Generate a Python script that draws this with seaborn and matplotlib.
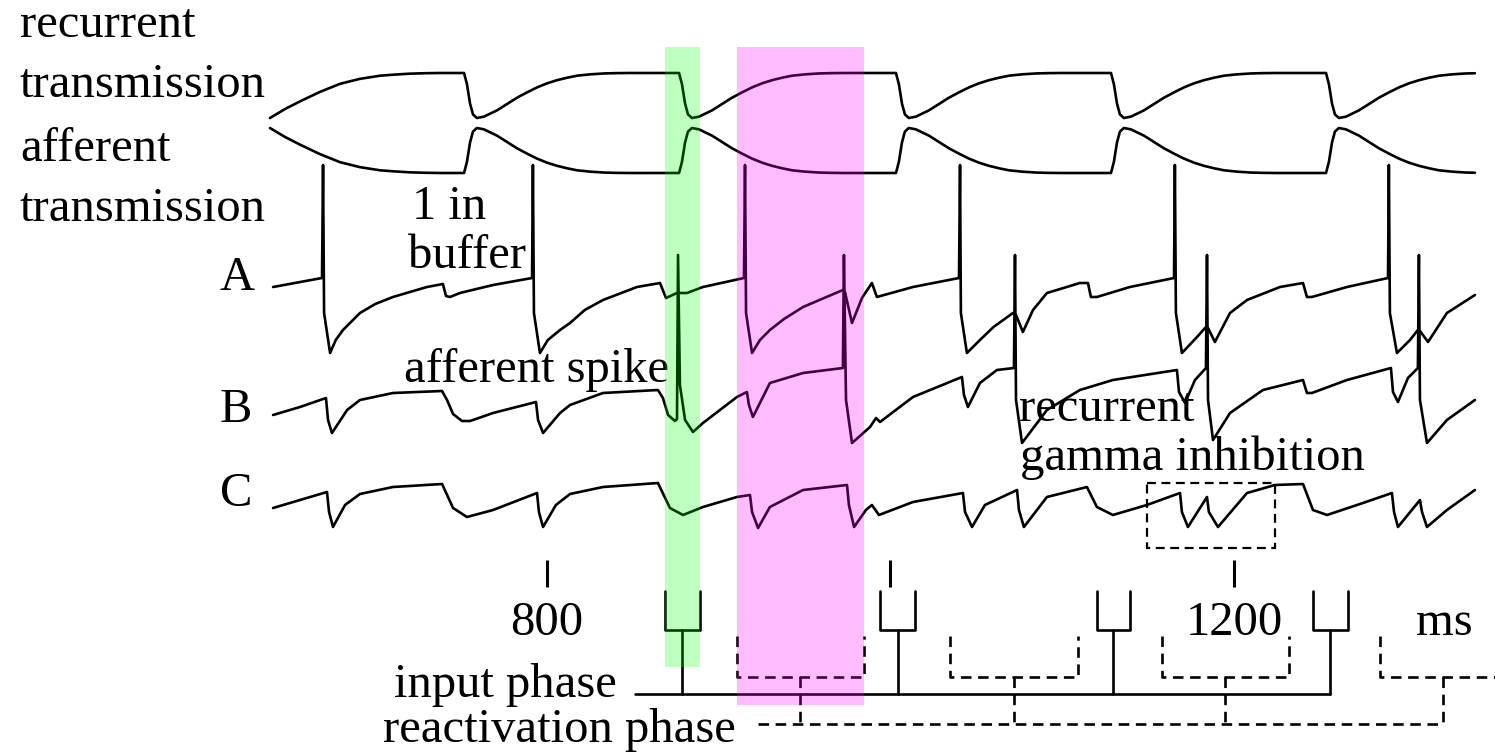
import numpy as np
import pandas as pd
import matplotlib
matplotlib.use("Agg")
import matplotlib.pyplot as plt
import matplotlib.transforms as mtransforms
from matplotlib.patches import Rectangle
import seaborn as sns

# time axis in ms, traces
t_trans = [638.7, 647.5, 656.2, 667.8, 679.5, 691.1, 702.8, 711.5, 720.2, 729.0, 737.7,
           751.7, 753.4, 755.2, 756.9, 759.2, 763.3, 770.9, 776.7, 782.5, 788.4, 794.2, 800.0, 805.8,
           811.7, 817.5, 825.1, 833.2, 840.2, 847.7,
           876.9, 878.6, 880.4, 882.1, 884.4, 888.5, 896.1, 901.9, 907.7, 913.6, 919.4, 925.2, 931.0,
           936.9, 942.7, 950.3, 958.4, 965.4, 972.9,
           1003.2, 1004.9, 1006.7, 1008.4, 1010.7, 1014.8, 1022.4, 1028.2, 1034.0, 1039.9, 1045.7, 1051.5,
           1057.3, 1063.2, 1069.0, 1076.6, 1084.7, 1091.7, 1099.2,
           1128.4, 1130.1, 1131.9, 1133.6, 1135.9, 1140.0, 1147.6, 1153.4, 1159.2, 1165.1, 1170.9, 1176.7,
           1182.5, 1188.4, 1194.2, 1201.8, 1209.9, 1216.9, 1224.4,
           1253.6, 1255.3, 1257.1, 1258.8, 1261.1, 1265.2, 1272.8, 1278.6, 1284.4, 1290.3, 1296.1, 1301.9,
           1307.7, 1313.6, 1319.4, 1327.0, 1335.1, 1340.3]
recurrent = [0.0, 0.2, 0.37, 0.58, 0.76, 0.87, 0.94, 0.965, 0.985, 0.995, 1.0,
             1.0, 0.75, 0.32, 0.08, 0.0, 0.03, 0.17, 0.31, 0.45, 0.57, 0.68, 0.77, 0.84,
             0.895, 0.94, 0.97, 0.99, 0.997, 1.0,
             1.0, 0.75, 0.32, 0.08, 0.0, 0.03, 0.17, 0.31, 0.45, 0.57, 0.68, 0.77, 0.84,
             0.895, 0.94, 0.97, 0.99, 0.997, 1.0,
             1.0, 0.75, 0.32, 0.08, 0.0, 0.03, 0.17, 0.31, 0.45, 0.57, 0.68, 0.77,
             0.84, 0.895, 0.94, 0.97, 0.99, 0.997, 1.0,
             1.0, 0.75, 0.32, 0.08, 0.0, 0.03, 0.17, 0.31, 0.45, 0.57, 0.68, 0.77,
             0.84, 0.895, 0.94, 0.97, 0.99, 0.997, 1.0,
             1.0, 0.75, 0.32, 0.08, 0.0, 0.03, 0.17, 0.31, 0.45, 0.57, 0.68, 0.77,
             0.84, 0.895, 0.94, 0.97, 0.99, 0.994]
afferent = [1.0, 0.8, 0.63, 0.42, 0.24, 0.13, 0.06, 0.035, 0.015, 0.005, 0.0,
            0.0, 0.25, 0.68, 0.92, 1.0, 0.97, 0.83, 0.69, 0.55, 0.43, 0.32, 0.23, 0.16,
            0.105, 0.06, 0.03, 0.01, 0.003, 0.0,
            0.0, 0.25, 0.68, 0.92, 1.0, 0.97, 0.83, 0.69, 0.55, 0.43, 0.32, 0.23, 0.16,
            0.105, 0.06, 0.03, 0.01, 0.003, 0.0,
            0.0, 0.25, 0.68, 0.92, 1.0, 0.97, 0.83, 0.69, 0.55, 0.43, 0.32, 0.23,
            0.16, 0.105, 0.06, 0.03, 0.01, 0.003, 0.0,
            0.0, 0.25, 0.68, 0.92, 1.0, 0.97, 0.83, 0.69, 0.55, 0.43, 0.32, 0.23,
            0.16, 0.105, 0.06, 0.03, 0.01, 0.003, 0.0,
            0.0, 0.25, 0.68, 0.92, 1.0, 0.97, 0.83, 0.69, 0.55, 0.43, 0.32, 0.23,
            0.16, 0.105, 0.06, 0.03, 0.01, 0.006]

a_t = [640.5, 669.0, 669.6, 670.2, 673.7, 677.0, 681.2, 691.1, 700.0, 710.3, 730.1, 739.4, 741.2, 743.5, 749.3, 768.6,
       791.3, 791.8, 792.4, 795.9, 800.5, 807.6, 813.4, 822.0, 832.6, 852.4, 865.8, 869.3, 875.7, 881.5, 890.8,
       914.7, 915.3, 915.9, 919.4, 924.0, 929.8, 938.0, 949.1, 972.3, 973.5, 977.6, 983.4, 989.2, 992.1, 1013.1,
       1039.9, 1040.5, 1041.0, 1044.5, 1052.1, 1060.0, 1071.3, 1073.1, 1077.1, 1083.0, 1091.1, 1110.3, 1115.0,
       1116.7, 1120.2, 1139.4, 1165.1, 1165.6, 1166.2, 1169.7, 1178.5, 1183.7, 1184.9, 1188.9, 1197.7,
       1207.6, 1226.8, 1240.2, 1242.5, 1245.4, 1265.8, 1289.7, 1290.2, 1290.8, 1294.9, 1302.5, 1307.1,
       1308.3, 1313.0, 1324.0, 1340.3]
a_v = [-4, 5, 118, -30, -70, -57, -47, -30, -21, -14, -4, -1, -13, -14, -10, -2,
       5, 118, -30, -70, -57, -47, -40, -27, -17, -4, 0, -15, -10, -10, -4,
       5, 118, -30, -70, -57, -47, -36, -24, -7, -9, -40, -15, 0, -14, -4,
       5, 118, -30, -70, -57, -44, -30, -32, -49, -27, -10, 0, 0,
       -14, -14, -4, 5, 118, -30, -70, -54, -44, -45, -59, -30,
       -17, -4, 0, -14, -14, -4, 5, 118, -30, -70, -57, -47,
       -48, -59, -30, -12]

b_t = [640.5, 656.2, 671.3, 672.5, 674.8, 683.6, 691.1, 710.3, 738.9, 741.8, 745.3, 750.5, 755.2, 768.6,
       793.6, 794.8, 797.7, 807.6, 813.4, 832.6, 864.6, 867.5, 870.5, 874.5, 875.7, 876.3, 877.4, 880.4,
       885.0, 890.8, 910.6, 916.4, 917.6, 919.9, 929.8, 949.1, 972.3, 972.9, 974.1, 977.6, 988.1, 991.6,
       993.9, 1013.1, 1041.6, 1042.8, 1045.1, 1052.1, 1062.0, 1071.9, 1072.5, 1073.1, 1076.6, 1091.1,
       1110.3, 1129.5, 1166.8, 1168.0, 1171.5, 1177.3, 1183.7, 1184.3, 1184.9, 1187.8, 1197.7, 1216.9,
       1240.2, 1242.5, 1245.4, 1265.8, 1291.4, 1292.6, 1295.5, 1301.3, 1307.1, 1307.7, 1308.3, 1312.4,
       1324.0, 1340.3]
b_v = [-5, 3, 12, -10, -23, 0, 10, 17, 19, 10, -4, -11, -11, -3,
       8, -10, -23, -3, 5, 17, 20, 12, -5, -11, -9, 155, 25, -10,
       -22, -13, 13, 18, 5, -7, 27, 37, 42, 155, 10, -33, -17, -8,
       -12, 13, 33, 15, 3, 27, 40, 42, 155, 10, -33, 0,
       20, 30, 40, 18, 7, 30, 42, 155, 10, -30, -3, 20,
       30, 17, 17, 30, 42, 18, 8, 32, 42, 155, 10, -33,
       -10, 10]

c_t = [640.5, 656.2, 671.9, 673.1, 675.4, 682.4, 691.1, 710.3, 738.9, 745.3, 753.4, 768.6, 794.2, 795.3,
       797.7, 805.2, 813.4, 832.6, 864.6, 871.6, 879.2, 890.8, 910.6, 918.2, 919.4, 922.9, 929.8, 949.1,
       974.7, 975.8, 978.8, 985.7, 989.2, 993.3, 1013.1, 1042.2, 1043.4, 1047.5, 1055.0, 1073.7, 1074.8,
       1077.7, 1091.1, 1114.4, 1120.2, 1129.5, 1149.3, 1168.6, 1169.7, 1173.2, 1184.3, 1185.4, 1190.7,
       1207.6, 1223.9, 1240.2, 1246.0, 1254.2, 1275.1, 1292.0, 1293.2, 1295.5, 1308.3, 1309.5, 1312.4,
       1324.0, 1340.3]
c_v = [-15, -7, 1, -19, -34, -12, -1, 6, 9, -15, -24, -17, 0, -19,
       -34, -12, -1, 6, 10, -15, -22, -14, -4, -2, -19, -35, -14, 3,
       8, -12, -34, -17, -12, -22, -9, 0, -19, -34, -12, 3, -17,
       -34, -4, 6, -14, -22, -12, 0, -19, -34, -4, -19, -34,
       0, 8, 9, -17, -22, -10, 0, -19, -34, -7, -19, -34,
       -17, 3]

# phase windows (ms)
input_start = [868.7, 993.9, 1120.2, 1246.0]
input_end = [889.1, 1014.3, 1139.4, 1266.4]
react_start = [910.6, 1034.6, 1158.1, 1285.0]
react_end = [984.6, 1109.2, 1232.0, 1358.8]
gamma_box = [1149.3, 1223.9]

tick_ms = [800, 1000, 1200]
tick_labels = ["800", "", "1200"]

# ---- layout ----
W, H = 1495, 752
LW = 1.9
DASH = (0, (4, 2.5))

sns.set_theme(style="white")
plt.rcParams['font.family'] = ['Liberation Serif', 'DejaVu Serif']
FS = 35

fig = plt.figure(figsize=(W / 100, H / 100), dpi=100)
ax = fig.add_axes([0, 0, 1, 1])
px = mtransforms.Affine2D().scale(1 / W, -1 / H).translate(0, 1) + fig.transFigure


def trace(t, y):
    df = pd.DataFrame({"t": t, "y": y})
    sns.lineplot(data=df, x="t", y="y", sort=False, estimator=None,
                 color="black", lw=LW, ax=ax, legend=False)


# transmission traces (amplitude 45 px)
trace(t_trans, 118 - 45 * np.array(recurrent))
trace(t_trans, 173 - 45 * np.array(afferent))
# cells A, B, C
trace(a_t, 283 - np.array(a_v))
trace(b_t, 410 - np.array(b_v))
trace(c_t, 493 - np.array(c_v))

# gamma inhibition box
ax.add_patch(Rectangle((gamma_box[0], 483), gamma_box[1] - gamma_box[0], 65,
                       fill=False, ec="black", lw=1.6, ls=DASH))

# time ticks
ax.vlines(tick_ms, 560, 587, color="black", lw=2.2)
for t, lab in zip(tick_ms, tick_labels):
    ax.text(t, 635, lab, ha="center", va="baseline", fontsize=FS, color="black")

# input phase brackets
for s, e in zip(input_start, input_end):
    m = (s + e) / 2
    ax.plot([s, s, e, e], [591, 630, 630, 591], color="black", lw=LW)
    ax.plot([m, m], [630, 694], color="black", lw=LW)
ax.plot([851.2, (input_start[-1] + input_end[-1]) / 2], [694, 694], color="black", lw=LW)

# reactivation phase brackets
for s, e in zip(react_start, react_end):
    m = (s + e) / 2
    ax.plot([s, s, e, e], [636, 677, 677, 636], color="black", lw=LW, ls=DASH)
    ax.plot([m, m], [677, 724], color="black", lw=LW, ls=DASH)
ax.plot([922.9, (react_start[-1] + react_end[-1]) / 2], [724, 724], color="black", lw=LW, ls=DASH)

# highlight bands over first input / reactivation phase
ax.add_patch(Rectangle((input_start[0], 47), input_end[0] - input_start[0], 620,
                       fc=(0, 1, 0), alpha=0.25, lw=0, zorder=5))
ax.add_patch(Rectangle((react_start[0], 47), react_end[0] - react_start[0], 658,
                       fc=(1, 0, 1), alpha=0.26, lw=0, zorder=5))

# labels
labels = [
    ("recurrent", 20, 37, "left"),
    ("transmission", 20, 97, "left"),
    ("afferent", 20, 161, "left"),
    ("transmission", 20, 221, "left"),
    ("1 in", 412, 219, "left"),
    ("buffer", 408, 268, "left"),
    ("A", 220, 290, "left"),
    ("B", 220, 422, "left"),
    ("C", 220, 506, "left"),
    ("afferent spike", 404, 382, "left"),
    ("recurrent", 1019, 421, "left"),
    ("gamma inhibition", 1020, 470, "left"),
    ("ms", 1444, 635, "center"),
    ("input phase", 617, 697, "right"),
    ("reactivation phase", 736, 742, "right"),
]
for s, x, y, ha in labels:
    ax.text(x, y, s, transform=px, ha=ha, va="baseline", fontsize=FS, color="black")

ax.set_xlim(481.5, 1352.0)
ax.set_ylim(H, 0)
ax.axis("off")

fig.savefig("out.png", dpi=100, facecolor="white")
